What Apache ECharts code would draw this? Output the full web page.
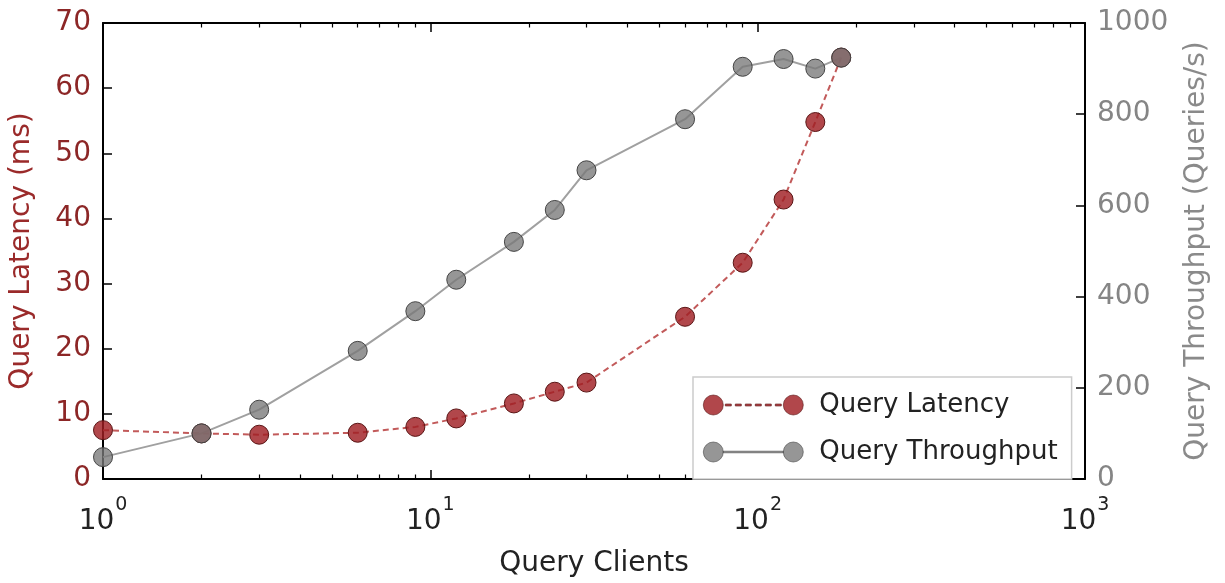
<!DOCTYPE html>
<html>
<head>
<meta charset="utf-8">
<script src="https://cdn.jsdelivr.net/npm/echarts@6/dist/echarts.min.js"></script>
<style>
html,body{margin:0;padding:0;background:#fff;}
#chart{width:1225px;height:583px;}
</style>
</head>
<body>
<div id="chart"></div>
<script>
// ---- data ----
const clients = [1, 2, 3, 6, 9, 12, 18, 24, 30, 60, 90, 120, 150, 180];
const latencyMs = [7.5, 7.0, 6.8, 7.1, 8.0, 9.3, 11.6, 13.4, 14.8, 24.9, 33.2, 42.9, 54.8, 64.7];
const throughputQps = [48, 100, 152, 281, 368, 437, 520, 590, 677, 789, 904, 921, 900, 924];
const xMajorTicks = [1, 10, 100, 1000];
const xMinorTicks = [2,3,4,5,6,7,8,9,20,30,40,50,60,70,80,90,200,300,400,500,600,700,800,900];
const latencyTicks = [0, 10, 20, 30, 40, 50, 60, 70];
const throughputTicks = [0, 200, 400, 600, 800, 1000];

const FONT = 'DejaVu Sans';
const RED_TXT = '#8c2626';
const GRAY_TXT = '#858585';

const latencyPairs = clients.map((c, i) => [c, latencyMs[i]]);
const throughputPairs = clients.map((c, i) => [c, throughputQps[i]]);

function circ(cx, r) {
  return 'M' + (cx - r) + ',10 A' + r + ',' + r + ' 0 1,1 ' + (cx + r) + ',10 A' + r + ',' + r + ' 0 1,1 ' + (cx - r) + ',10 Z ';
}
let dashed = circ(10, 10) + circ(90, 10);
for (let x = 22; x < 80; x += 10) dashed += 'M' + x + ',9 L' + (x + 6) + ',9 L' + (x + 6) + ',11 L' + x + ',11 Z ';
const solid = circ(10, 10) + circ(90, 10) + 'M20,9.2 L80,9.2 L80,10.8 L20,10.8 Z';

const baseX = {
  type: 'log', logBase: 10, min: 1, max: 1000, gridIndex: 0,
  splitLine: { show: false }
};

const chart = echarts.init(document.getElementById('chart'), null, { renderer: 'canvas' });
chart.setOption({
  animation: false,
  backgroundColor: '#ffffff',
  textStyle: { fontFamily: FONT },
  grid: { left: 103, right: 140, top: 23, bottom: 101, containLabel: false },
  legend: {
    orient: 'vertical',
    left: 693, top: 377,
    padding: [15, 14, 14, 10],
    itemWidth: 100, itemHeight: 20, itemGap: 21,
    backgroundColor: '#ffffff',
    borderColor: '#cccccc', borderWidth: 1.5, borderRadius: 0,
    textStyle: { fontFamily: FONT, fontSize: 26, color: '#222', lineHeight: 20, padding: [0, 0, 0, 11] },
    itemStyle: { borderWidth: 0.6 },
    data: [
      { name: 'Query Latency', icon: 'path://' + dashed },
      { name: 'Query Throughput', icon: 'path://' + solid }
    ]
  },
  xAxis: [
    Object.assign({}, baseX, {
      position: 'bottom',
      name: 'Query Clients', nameLocation: 'middle', nameGap: 71,
      nameTextStyle: { fontFamily: FONT, fontSize: 28, color: '#222' },
      axisLine: { show: true, lineStyle: { color: '#000', width: 2 } },
      axisTick: { show: true, inside: true, length: 9, lineStyle: { color: '#000', width: 1.5 }, customValues: xMajorTicks },
      axisLabel: {
        margin: 17, customValues: xMajorTicks,
        formatter: v => '{b|10}{s|' + Math.round(Math.log10(v)) + '}',
        rich: {
          b: { fontFamily: FONT, fontSize: 28, color: '#222', lineHeight: 28, verticalAlign: 'bottom' },
          s: { fontFamily: FONT, fontSize: 19, color: '#222', verticalAlign: 'top', padding: [0, 0, 21, 1] }
        }
      }
    }),
    Object.assign({}, baseX, {
      position: 'bottom',
      axisLine: { show: false },
      axisLabel: { show: false },
      axisTick: { show: true, inside: true, length: 4.5, lineStyle: { color: '#000', width: 1.2 }, customValues: xMinorTicks }
    }),
    Object.assign({}, baseX, {
      position: 'top',
      axisLine: { show: true, lineStyle: { color: '#000', width: 2 } },
      axisLabel: { show: false },
      axisTick: { show: true, inside: true, length: 9, lineStyle: { color: '#000', width: 1.5 }, customValues: xMajorTicks }
    }),
    Object.assign({}, baseX, {
      position: 'top',
      axisLine: { show: false },
      axisLabel: { show: false },
      axisTick: { show: true, inside: true, length: 4.5, lineStyle: { color: '#000', width: 1.2 }, customValues: xMinorTicks }
    })
  ],
  yAxis: [
    {
      type: 'value', position: 'left', min: 0, max: 70, interval: 10,
      name: 'Query Latency (ms)', nameLocation: 'middle', nameGap: 67,
      nameTextStyle: { fontFamily: FONT, fontSize: 28, color: '#9a2a2a' },
      axisLine: { show: true, lineStyle: { color: '#000', width: 2 } },
      axisTick: { show: true, inside: true, length: 9, lineStyle: { color: '#000', width: 1.5 } },
      axisLabel: { margin: 12, fontFamily: FONT, fontSize: 28, color: RED_TXT,
        customValues: latencyTicks, formatter: v => String(v) },
      splitLine: { show: false }
    },
    {
      type: 'value', position: 'right', min: 0, max: 1000, interval: 200,
      name: 'Query Throughput (Queries/s)', nameLocation: 'middle', nameGap: 98,
      nameTextStyle: { fontFamily: FONT, fontSize: 28, color: '#8a8a8a' },
      axisLine: { show: true, lineStyle: { color: '#000', width: 2 } },
      axisTick: { show: true, inside: true, length: 9, lineStyle: { color: '#000', width: 1.5 } },
      axisLabel: { margin: 12, fontFamily: FONT, fontSize: 28, color: GRAY_TXT,
        customValues: throughputTicks, formatter: v => String(v) },
      splitLine: { show: false }
    }
  ],
  series: [
    {
      name: 'Query Latency', type: 'line', xAxisIndex: 0, yAxisIndex: 0,
      data: latencyPairs,
      symbol: 'circle', symbolSize: 19,
      itemStyle: { color: 'rgba(160,30,35,0.82)', borderColor: '#5a1515', borderWidth: 1 },
      lineStyle: { color: '#c25a5a', width: 2, type: [6, 4] }
    },
    {
      name: 'Query Throughput', type: 'line', xAxisIndex: 0, yAxisIndex: 1,
      data: throughputPairs,
      symbol: 'circle', symbolSize: 19,
      itemStyle: { color: 'rgba(120,120,120,0.78)', borderColor: '#444444', borderWidth: 1 },
      lineStyle: { color: '#a0a0a0', width: 2 }
    }
  ]
});
</script>
</body>
</html>
